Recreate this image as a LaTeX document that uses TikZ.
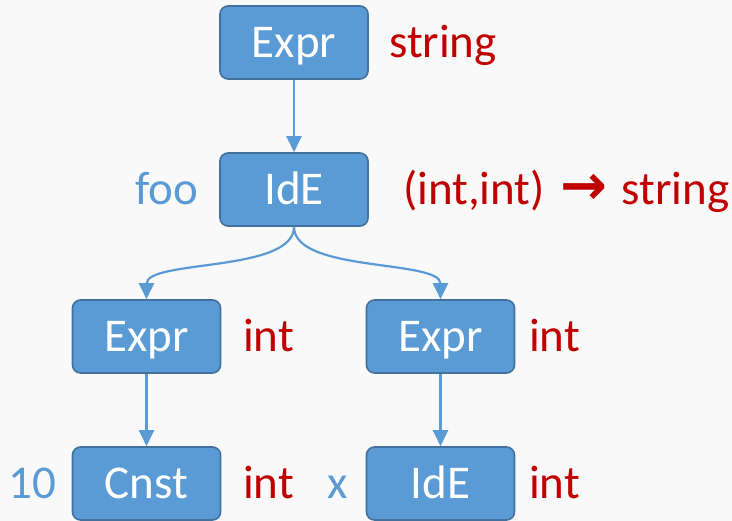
\documentclass[tikz,border=0pt]{standalone}
\usepackage{fontspec}
\setmainfont{Carlito}
\newfontfamily\dejavu{DejaVu Sans}
\usetikzlibrary{arrows.meta}
\definecolor{boxfill}{HTML}{5B9BD5}
\definecolor{boxline}{HTML}{41719C}
\definecolor{typered}{HTML}{C00000}
\definecolor{bgc}{HTML}{F9F9F9}
\begin{document}
\begin{tikzpicture}[x=1pt,y=-1pt,
  ast/.style={draw=boxline, line width=1.6pt, fill=boxfill, rounded corners=8pt,
    minimum width=148pt, minimum height=73pt, inner sep=0pt,
    text=white, font=\fontsize{47}{47}\selectfont, text height=31pt, text depth=0pt},
  tylab/.style={anchor=base west, inner sep=0pt, text=typered, font=\fontsize{47}{47}\selectfont},
  vallab/.style={anchor=base west, inner sep=0pt, text=boxfill, font=\fontsize{47}{47}\selectfont},
  edge/.style={draw=boxfill, line width=2.2pt, -{Triangle[width=15pt,length=16pt]}}]
\fill[bgc] (0,0) rectangle (732,521);
\useasboundingbox (0,0) rectangle (732,521);

\node[ast] (e0) at (294,42.5) {Expr};
\node[ast] (id0) at (294,189.5) {IdE};
\node[ast] (e1) at (146.5,336.5) {Expr};
\node[ast] (e2) at (440.5,336.5) {Expr};
\node[ast] (c1) at (146.5,483.5) {Cnst};
\node[ast] (id1) at (440.5,483.5) {IdE};

\node[tylab] (t0) at (389,58) {string};
\node[tylab] (t1) at (403,205) {(int,int)\hspace{15pt}{\dejavu\bfseries\fontsize{56}{56}\selectfont →}\hspace{15pt}string};
\node[tylab] (t2) at (243,352) {int};
\node[tylab] (t3) at (529,352) {int};
\node[tylab] (t4) at (243,499) {int};
\node[tylab] (t5) at (529,499) {int};

\node[vallab] (v0) at (135,205) {foo};
\node[vallab] (v1) at (8,499) {10};
\node[vallab] (v2) at (327,499) {x};

\draw[edge] (e0.south) -- (id0.north);
\draw[edge] (id0.south) .. controls ++(0,46) and ++(0,-40) .. (e1.north);
\draw[edge] (id0.south) .. controls ++(0,46) and ++(0,-40) .. (e2.north);
\draw[edge] (e1.south) -- (c1.north);
\draw[edge] (e2.south) -- (id1.north);
\end{tikzpicture}
\end{document}
